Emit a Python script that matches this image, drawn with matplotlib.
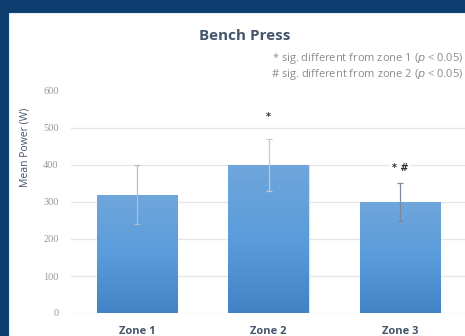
import numpy as np
import matplotlib
matplotlib.use("Agg")
import matplotlib.pyplot as plt
from matplotlib.patches import Rectangle
from matplotlib.colors import LinearSegmentedColormap

# mean power per zone with standard deviations
zones = ["Zone 1", "Zone 2", "Zone 3"]
mean_power = [320, 400, 300]
sd_power = [80, 70, 50]
err_colors = ["#b4bcc8", "#c4cad3", "#7f8b9b"]
sig_marks = ["", "*", "* #"]
sig_heights = [0, 530, 393]
yticks = [0, 100, 200, 300, 400, 500, 600]

W, H = 465, 336
fig = plt.figure(figsize=(W / 100, H / 100), dpi=100)
fig.patch.set_facecolor("#0b3d6f")

# white panel inside the dark frame
fig.patches.append(Rectangle((9 / W, 0), 1, (H - 13) / H, transform=fig.transFigure,
                             facecolor="white", edgecolor="#dfe8f3", lw=0.8, zorder=-5))

ax = fig.add_axes([71 / W, 23 / H, 395 / W, 222 / H])
ax.set_zorder(2)
ax.set_facecolor("none")
x = np.arange(len(zones))
bars = ax.bar(x, mean_power, width=0.61, color="#5b9bd5", edgecolor="#d6e4f3", lw=0.8, zorder=2)

# vertical gradient fill on each bar
cmap = LinearSegmentedColormap.from_list("bar", ["#4283c5", "#5a9cdc", "#70a6db"])
grad = np.linspace(0, 1, 256).reshape(-1, 1)
for b in bars:
    x0, y0, w, h = b.get_x(), b.get_y(), b.get_width(), b.get_height()
    im = ax.imshow(grad, cmap=cmap, extent=[x0, x0 + w, y0, y0 + h], origin="lower",
                   aspect="auto", zorder=2.5)
    im.set_clip_path(b)

for i in range(len(zones)):
    ax.errorbar(x[i], mean_power[i], yerr=sd_power[i], fmt="none", ecolor=err_colors[i],
                elinewidth=0.9, capsize=2.5, capthick=0.9, zorder=3)
    if sig_marks[i]:
        ax.text(x[i], sig_heights[i], sig_marks[i], ha="center", va="center", fontsize=7,
                fontweight="bold", color="#333333", zorder=4,
                bbox=dict(facecolor="white", edgecolor="none", pad=1.5))

ax.set_xlim(-0.5, 2.5)
ax.set_ylim(0, 600)
ax.set_yticks(yticks)
ax.set_yticklabels([str(t) for t in yticks], fontsize=7.5, color="#999999", family="Liberation Serif")
for t in yticks[:-1]:
    ax.axhline(t, color="#e6e6e6", lw=0.9, zorder=1)
ax.set_xticks(x)
ax.set_xticklabels(zones, fontsize=8, color="#44546a", fontweight="bold", family="Open Sans")
ax.tick_params(length=0)
ax.tick_params(axis="x", pad=9)
ax.tick_params(axis="y", pad=9)
for s in ax.spines.values():
    s.set_visible(False)

fig.text(245 / W, 1 - 36 / H, "Bench Press", ha="center", va="center", fontsize=11,
         fontweight="bold", color="#44546a", family="Open Sans")
fig.text(25 / W, 1 - 147 / H, "Mean Power (W)", ha="center", va="center", rotation=90,
         fontsize=7.5, color="#44546a", family="Open Sans")
fig.text(463 / W, 1 - 59 / H, "* sig. different from zone 1 ($\\it{p}$ < 0.05)", ha="right",
         va="center", fontsize=8, color="#8c8c8c", family="Open Sans")
fig.text(463 / W, 1 - 74 / H, "# sig. different from zone 2 ($\\it{p}$ < 0.05)", ha="right",
         va="center", fontsize=8, color="#8c8c8c", family="Open Sans")

fig.savefig("out.png", dpi=100, facecolor=fig.get_facecolor())
